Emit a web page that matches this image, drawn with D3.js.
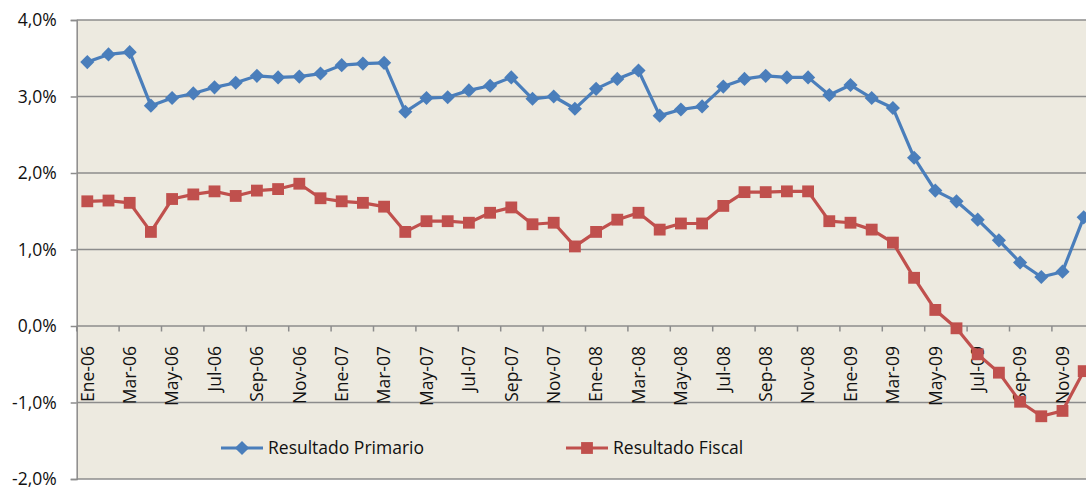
<!DOCTYPE html>
<html>
<head>
<meta charset="utf-8">
<script src="https://cdn.jsdelivr.net/npm/d3@7"></script>
<style>
  html, body { margin: 0; padding: 0; background: #fff; }
  svg { display: block; }
  text { font-family: "Open Sans", "Noto Sans", sans-serif; fill: #111; }
</style>
</head>
<body>
<svg id="chart" width="1086" height="493"></svg>
<script>
// Monthly categories (Spanish abbreviations)
const months = ["Ene", "Feb", "Mar", "Abr", "May", "Jun", "Jul", "Ago", "Sep", "Oct", "Nov", "Dic"];
const years = ["06", "07", "08", "09"];
const categories = [];
years.forEach(yr => months.forEach(m => categories.push(m + "-" + yr)));

// Resultado Primario, % del PIB
const primario = [
  3.45, 3.55, 3.58, 2.88, 2.98, 3.04, 3.12, 3.18, 3.27, 3.25, 3.26, 3.30,
  3.41, 3.43, 3.44, 2.80, 2.98, 2.99, 3.08, 3.14, 3.25, 2.97, 3.00, 2.84,
  3.10, 3.23, 3.34, 2.75, 2.83, 2.87, 3.13, 3.23, 3.27, 3.25, 3.25, 3.02,
  3.15, 2.98, 2.85, 2.20, 1.77, 1.63, 1.39, 1.12, 0.83, 0.64, 0.71, 1.42
];

// Resultado Fiscal, % del PIB
const fiscal = [
  1.63, 1.64, 1.61, 1.23, 1.66, 1.72, 1.76, 1.70, 1.77, 1.79, 1.86, 1.67,
  1.63, 1.61, 1.56, 1.23, 1.37, 1.37, 1.35, 1.48, 1.55, 1.33, 1.35, 1.04,
  1.23, 1.39, 1.48, 1.26, 1.34, 1.34, 1.57, 1.75, 1.75, 1.76, 1.76, 1.37,
  1.35, 1.26, 1.09, 0.63, 0.21, -0.03, -0.37, -0.61, -0.99, -1.18, -1.11, -0.59
];

const yTicks = [-2, -1, 0, 1, 2, 3, 4];

const svg = d3.select("#chart");
const plotLeft = 76.7, plotTop = 20, plotBottom = 479;
const band = 21.2;
const plotRight = plotLeft + categories.length * band;
const fontSize = 17.5;

const x = d3.scaleBand().domain(categories).range([plotLeft, plotRight]).padding(0);
const y = d3.scaleLinear().domain([-2, 4]).range([plotBottom, plotTop]);
const cx = d => x(d) + x.bandwidth() / 2;
// Spanish-style percent: decimal comma, plain hyphen for negatives
const fmt = v => v.toFixed(1).replace(".", ",") + "%";

// Plot area background
svg.append("rect")
  .attr("x", plotLeft).attr("y", plotTop)
  .attr("width", plotRight - plotLeft).attr("height", plotBottom - plotTop)
  .attr("fill", "#EDEAE0");

// Horizontal gridlines
svg.append("g").selectAll("line").data(yTicks).join("line")
  .attr("x1", plotLeft).attr("x2", plotRight)
  .attr("y1", d => y(d)).attr("y2", d => y(d))
  .attr("stroke", "#8C8C8C").attr("stroke-width", 1.5);

// Value axis on the left
const yAxis = svg.append("g")
  .attr("transform", `translate(${plotLeft},0)`)
  .call(d3.axisLeft(y).tickValues(yTicks).tickFormat(fmt).tickSize(6).tickPadding(14));
yAxis.select(".domain").attr("stroke", "#8C8C8C").attr("stroke-width", 1.5);
yAxis.selectAll(".tick line").attr("stroke", "#8C8C8C").attr("stroke-width", 1.5);
yAxis.selectAll(".tick text")
  .style("font-family", "'Open Sans', sans-serif")
  .attr("font-size", fontSize).attr("fill", "#111");

// Category axis along the zero line: tick marks every two months
const tickPos = d3.range(0, categories.length + 1, 2).map(i => plotLeft + i * band);
svg.append("g").selectAll("line").data(tickPos).join("line")
  .attr("x1", d => d).attr("x2", d => d)
  .attr("y1", y(0)).attr("y2", y(0) + 5.5)
  .attr("stroke", "#8C8C8C").attr("stroke-width", 1.5);

svg.append("g").selectAll("text")
  .data(categories.filter((d, i) => i % 2 === 0))
  .join("text")
  .attr("transform", d => `translate(${cx(d)},${y(0) + 20}) rotate(-90)`)
  .attr("text-anchor", "end")
  .attr("dy", "0.36em")
  .attr("font-size", fontSize)
  .text(d => d);

// Series lines and markers
const line = d3.line().x((d, i) => cx(categories[i])).y(d => y(d));

const series = [
  { name: "Resultado Primario", values: primario, color: "#4A7EBB", diamond: true, size: 100 },
  { name: "Resultado Fiscal", values: fiscal, color: "#C0504D", diamond: false, size: 140 }
];
const markerTransform = (s, px, py) => `translate(${px},${py})` + (s.diamond ? " rotate(45)" : "");

const plot = svg.append("g");
series.forEach(s => {
  plot.append("path")
    .datum(s.values)
    .attr("d", line)
    .attr("fill", "none")
    .attr("stroke", s.color)
    .attr("stroke-width", 3.2)
    .attr("stroke-linejoin", "round");
});
series.forEach(s => {
  plot.append("g").selectAll("path").data(s.values).join("path")
    .attr("d", d3.symbol().type(d3.symbolSquare).size(s.size))
    .attr("transform", (d, i) => markerTransform(s, cx(categories[i]), y(d)))
    .attr("fill", s.color);
});

// Legend
const legend = [
  { s: series[0], x0: 221, x1: 263, tx: 268 },
  { s: series[1], x0: 566, x1: 608, tx: 613 }
];
const ly = 448;
legend.forEach(l => {
  const g = svg.append("g");
  g.append("line")
    .attr("x1", l.x0).attr("x2", l.x1).attr("y1", ly).attr("y2", ly)
    .attr("stroke", l.s.color).attr("stroke-width", 3.2);
  g.append("path")
    .attr("d", d3.symbol().type(d3.symbolSquare).size(l.s.size))
    .attr("transform", markerTransform(l.s, (l.x0 + l.x1) / 2, ly))
    .attr("fill", l.s.color);
  g.append("text")
    .attr("x", l.tx).attr("y", ly).attr("dy", "0.35em")
    .attr("font-size", fontSize)
    .text(l.s.name);
});
</script>
</body>
</html>
